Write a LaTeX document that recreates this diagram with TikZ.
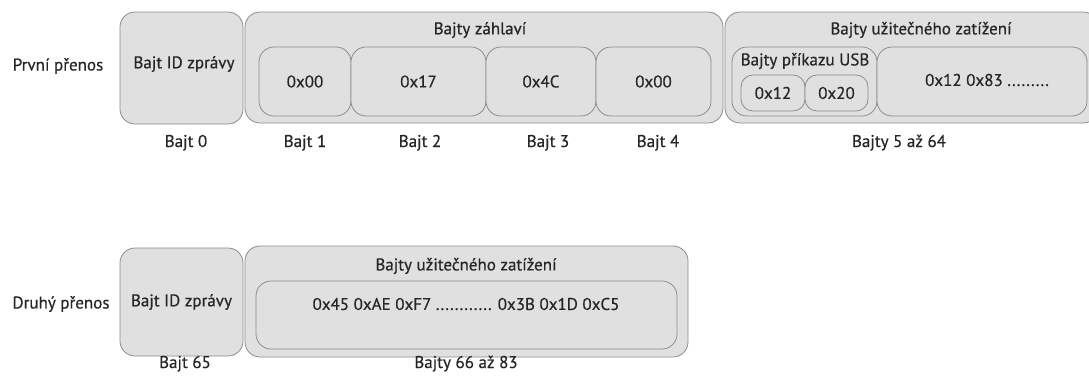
\documentclass[tikz,border=0pt]{standalone}
\usepackage{fontspec}
\setmainfont[FakeBold=0.5]{PT Sans}
\begin{document}
\begin{tikzpicture}[x=1pt,y=-1pt,
  every node/.style={text=black!85, font=\fontsize{17}{20}\selectfont},
  frame/.style={draw=black!45, fill=black!12, line width=0.8pt, rounded corners=15pt, inner sep=0pt},
  cell/.style={frame, minimum height=69pt},
  tiny/.style={frame, rounded corners=12pt, minimum height=36pt},
  caption/.style={inner sep=0pt, anchor=base}
]
\useasboundingbox (0,0) rectangle (1089,378);

% ---- first transfer ----
\node[inner sep=0pt] (t1) at (58,66) {První přenos};
\node[frame, minimum width=123pt, minimum height=112pt] (id1) at (181.5,68) {};
\node[inner sep=0pt] (id1t) at (184,64) {Bajt ID zprávy};

\node[frame, minimum width=478pt, minimum height=111pt] (hdr) at (484,67.5) {};
\node[inner sep=0pt] (hdrt) at (480,30) {Bajty záhlaví};
\node[cell, minimum width=92pt]  (h0) at (305,81.5)   {0x00};
\node[cell, minimum width=135pt] (h1) at (418.5,81.5) {0x17};
\node[cell, minimum width=110pt] (h2) at (541,81.5)   {0x4C};
\node[cell, minimum width=115pt] (h3) at (653.5,81.5) {0x00};

\node[frame, minimum width=373pt, minimum height=111pt] (pay1) at (911.5,67.5) {};
\node[inner sep=0pt] (pay1t) at (921,30) {Bajty užitečného zatížení};
\node[cell, minimum width=145pt] (usb) at (804.5,81.5) {};
\node[inner sep=0pt] (usbt) at (805,61) {Bajty příkazu USB};
\node[tiny, minimum width=64pt] (u0) at (773,93)   {0x12};
\node[tiny, minimum width=63pt] (u1) at (836.5,93) {0x20};
\node[cell, minimum width=210pt] (rest) at (982,81.5) {};
\node[inner sep=0pt] (restt) at (987,80) {0x12 0x83 .........};

\node[caption] (b0) at (186,147) {Bajt 0};
\node[caption] (b1) at (305,147) {Bajt 1};
\node[caption] (b2) at (420,147) {Bajt 2};
\node[caption] (b3) at (548,147) {Bajt 3};
\node[caption] (b4) at (658,147) {Bajt 4};
\node[caption] (b5) at (899,147) {Bajty 5 až 64};

% ---- second transfer ----
\node[inner sep=0pt] (t2) at (61,304) {Druhý přenos};
\node[frame, minimum width=123pt, minimum height=108pt] (id2) at (181.5,302) {Bajt ID zprávy};

\node[frame, minimum width=443pt, minimum height=111pt] (pay2) at (466.5,301.5) {};
\node[inner sep=0pt] (pay2t) at (466,266) {Bajty užitečného zatížení};
\node[cell, minimum width=421pt, minimum height=68pt] (data2) at (466.5,315) {};
\node[inner sep=0pt] (data2t) at (466,304) {0x45 0xAE 0xF7 ............ 0x3B 0x1D 0xC5};

\node[caption] (b65) at (185,368) {Bajt 65};
\node[caption] (b66) at (466,368) {Bajty 66 až 83};
\end{tikzpicture}
\end{document}
